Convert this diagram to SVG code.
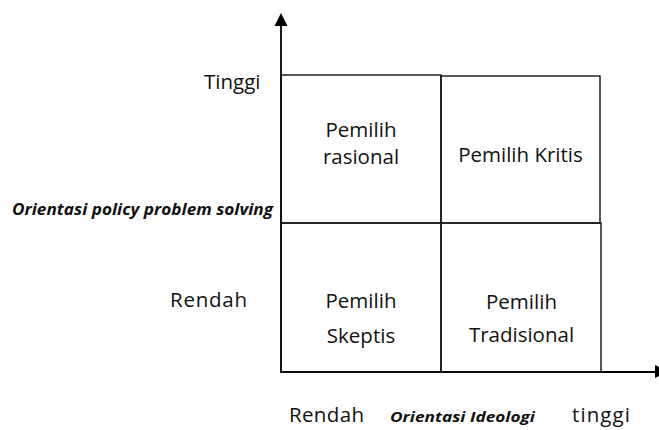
<svg xmlns="http://www.w3.org/2000/svg" width="659" height="430" viewBox="0 0 659 430">
<style>
.t{font-family:"Open Sans","Noto Sans",sans-serif;font-size:20.5px;fill:#111}
.b{font-family:"Open Sans","Noto Sans",sans-serif;font-weight:bold;font-style:italic;fill:#111}
.box{fill:none;stroke:#111;stroke-width:1.4}
.ax{stroke:#000;stroke-width:1.8;fill:none}
</style>
<g id="connectors">
<path class="ax" d="M281,373 V25"/>
<path d="M274.5,26 L281,13 L287.5,26 Z" fill="#000"/>
<path class="ax" d="M281,372 H660"/>
<path d="M655,365 L668,371.5 L655,378 Z" fill="#000"/>
</g>
<g id="rasional">
<rect class="box" x="281" y="75" width="160" height="148"/>
<text class="t" x="361" y="137" text-anchor="middle">Pemilih</text>
<text class="t" x="361" y="164" text-anchor="middle">rasional</text>
</g>
<g id="kritis">
<rect class="box" x="441" y="76" width="159" height="147"/>
<text class="t" x="520.5" y="162" text-anchor="middle">Pemilih Kritis</text>
</g>
<g id="skeptis">
<rect class="box" x="281" y="223" width="160" height="149"/>
<text class="t" x="361" y="308" text-anchor="middle">Pemilih</text>
<text class="t" x="361" y="343" text-anchor="middle">Skeptis</text>
</g>
<g id="tradisional">
<rect class="box" x="441" y="223" width="160" height="149"/>
<text class="t" x="521.5" y="309" text-anchor="middle">Pemilih</text>
<text class="t" x="521.5" y="342" text-anchor="middle">Tradisional</text>
</g>
<g id="labels">
<text class="t" x="204" y="89">Tinggi</text>
<text class="t" x="170" y="307" textLength="77">Rendah</text>
<text class="b" x="12" y="215" font-size="16" textLength="261" lengthAdjust="spacingAndGlyphs">Orientasi policy problem solving</text>
<text class="t" x="289" y="422" textLength="75">Rendah</text>
<text class="b" x="390" y="422" font-size="15" textLength="145" lengthAdjust="spacingAndGlyphs">Orientasi Ideologi</text>
<text class="t" x="572" y="422" textLength="58">tinggi</text>
</g>
</svg>
